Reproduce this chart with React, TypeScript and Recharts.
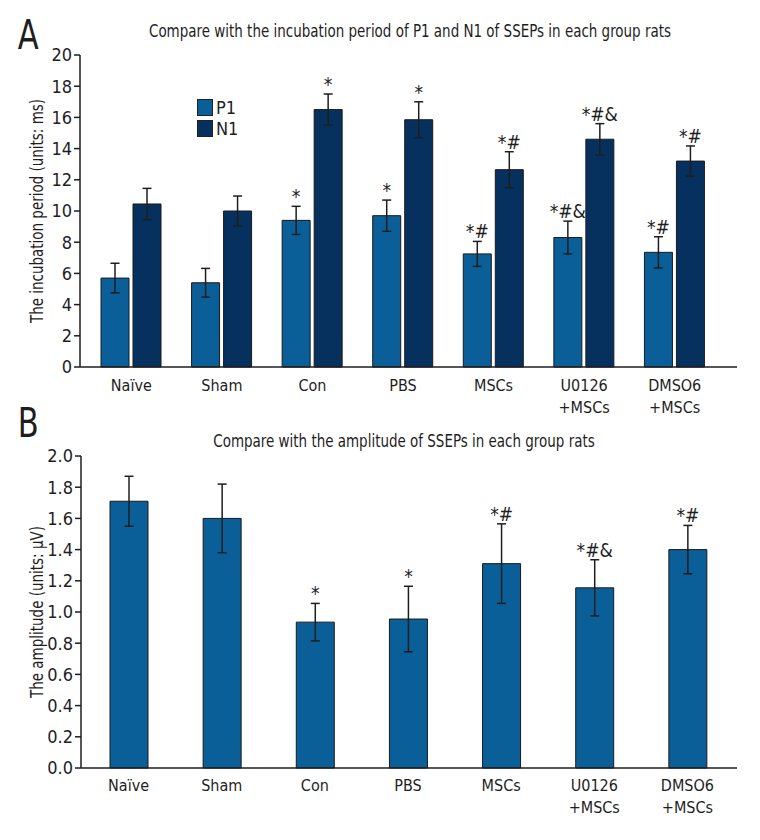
import { BarChart, Bar, XAxis, YAxis, ErrorBar, LabelList, Legend } from 'recharts'

const FONT = '"DejaVu Sans Condensed", "Liberation Sans Narrow", "Roboto", sans-serif'
const INK = '#1e1e1e'
const P1_COLOR = '#0a5f98'
const N1_COLOR = '#06315e'

const groups = ['Naïve', 'Sham', 'Con', 'PBS', 'MSCs', 'U0126\n+MSCs', 'DMSO6\n+MSCs']

// latency (ms)
const p1 = [5.7, 5.4, 9.4, 9.7, 7.25, 8.3, 7.35]
const p1Err = [0.95, 0.92, 0.9, 1.0, 0.8, 1.05, 1.0]
const p1Sig = ['', '', '*', '*', '*#', '*#&', '*#']
const n1 = [10.45, 10.0, 16.5, 15.85, 12.65, 14.6, 13.2]
const n1Err = [1.0, 0.96, 1.0, 1.15, 1.15, 1.0, 0.97]
const n1Sig = ['', '', '*', '*', '*#', '*#&', '*#']
const latencyTicks = [0, 2, 4, 6, 8, 10, 12, 14, 16, 18, 20]

// amplitude (µV)
const amp = [1.71, 1.6, 0.935, 0.955, 1.31, 1.155, 1.4]
const ampErr = [0.16, 0.22, 0.12, 0.21, 0.255, 0.18, 0.155]
const ampSig = ['', '', '*', '*', '*#', '*#&', '*#']
const ampTicks = [0, 0.2, 0.4, 0.6, 0.8, 1.0, 1.2, 1.4, 1.6, 1.8, 2.0]

const latencyData = groups.map((g, i) => ({
  group: g, p1: p1[i], p1Err: p1Err[i], p1Sig: p1Sig[i],
  n1: n1[i], n1Err: n1Err[i], n1Sig: n1Sig[i],
}))
const ampData = groups.map((g, i) => ({ group: g, amp: amp[i], ampErr: ampErr[i], ampSig: ampSig[i] }))

// text above the error bar cap; px per unit taken from the bar's own geometry
const sigLabel = (vals: number[], errs: number[]) => (props: any) => {
  const { x, y, width, height, value, index } = props
  if (!value || index == null) return null
  const top = y - errs[index] * (height / vals[index])
  return (
    <text x={x + width / 2} y={top - 3} textAnchor="middle" fontSize={19} fill={INK} fontFamily={FONT}>
      {value}
    </text>
  )
}

const groupTick = (dy: number) => (props: any) => {
  const { x, y, payload } = props
  const lines = String(payload.value).split('\n')
  return (
    <text x={x} y={y} textAnchor="middle" fontSize={16} fill={INK} fontFamily={FONT}>
      {lines.map((l, i) => (
        <tspan key={i} x={x} dy={i === 0 ? dy : 22}>{l}</tspan>
      ))}
    </text>
  )
}

const yLabel = (text: string, cx: number, len: number) => (props: any) => {
  const { viewBox } = props
  const cy = viewBox.y + viewBox.height / 2
  return (
    <text x={cx} y={cy} transform={`rotate(-90 ${cx} ${cy})`} textAnchor="middle"
      dominantBaseline="central" fontSize={18} fill={INK} fontFamily={FONT}
      textLength={len} lengthAdjust="spacingAndGlyphs">
      {text}
    </text>
  )
}

const LatencyLegend = () => (
  <div style={{ fontFamily: FONT, fontSize: 18, color: INK, lineHeight: '21px' }}>
    {[['P1', P1_COLOR], ['N1', N1_COLOR]].map(([name, c]) => (
      <div key={name} style={{ display: 'flex', alignItems: 'center', gap: 3 }}>
        <span style={{ width: 14, height: 15, background: c, border: '1px solid #222', display: 'inline-block' }} />
        {name}
      </div>
    ))}
  </div>
)

const tickStyle = { fontSize: 18, fill: INK, fontFamily: FONT }
const titleStyle = { position: 'absolute' as const, left: 0, textAlign: 'center' as const, fontSize: 17, transform: 'scaleX(0.88)' }

export default function App() {
  return (
    <div style={{ position: 'absolute', left: 0, top: 0, width: 760, height: 840, background: '#fff', fontFamily: FONT, color: INK }}>
      <div style={{ position: 'absolute', left: 16, top: 12, fontSize: 40, transform: 'scaleX(0.85)' }}>A</div>
      <div style={{ ...titleStyle, width: 820, top: 21 }}>
        Compare with the incubation period of P1 and N1 of SSEPs in each group rats
      </div>
      <div style={{ position: 'absolute', left: 16, top: 400, fontSize: 40, transform: 'scaleX(0.85)' }}>B</div>
      <div style={{ ...titleStyle, width: 808, top: 431 }}>
        Compare with the amplitude of SSEPs in each group rats
      </div>

      <div style={{ position: 'absolute', left: 0, top: 0 }}>
        <BarChart width={760} height={420} data={latencyData}
          margin={{ top: 55, right: 23, left: 0, bottom: 5 }} barSize={28} barGap={4}>
          <XAxis dataKey="group" interval={0} height={48} tickLine={false}
            axisLine={{ stroke: INK, strokeWidth: 1.5 }} padding={{ left: 6, right: 17 }}
            tick={groupTick(16)} />
          <YAxis width={80} domain={[0, 20]} ticks={latencyTicks} interval={0}
            axisLine={{ stroke: INK, strokeWidth: 1.5 }} tickLine={{ stroke: INK, strokeWidth: 1.5 }}
            tickSize={6} tick={tickStyle}
            label={{ content: yLabel('The incubation period (units: ms)', 36, 224) }} />
          <Legend layout="horizontal" verticalAlign="middle" align="center" content={<LatencyLegend />}
            wrapperStyle={{ position: 'absolute', left: 197, top: 97, width: 60 }} />
          <Bar dataKey="p1" fill={P1_COLOR} stroke="#1a1a1a" strokeWidth={1} isAnimationActive={false}>
            <ErrorBar dataKey="p1Err" width={4.5} stroke={INK} strokeWidth={1.5} />
            <LabelList dataKey="p1Sig" content={sigLabel(p1, p1Err)} />
          </Bar>
          <Bar dataKey="n1" fill={N1_COLOR} stroke="#1a1a1a" strokeWidth={1} isAnimationActive={false}>
            <ErrorBar dataKey="n1Err" width={4.5} stroke={INK} strokeWidth={1.5} />
            <LabelList dataKey="n1Sig" content={sigLabel(n1, n1Err)} />
          </Bar>
        </BarChart>
      </div>

      <div style={{ position: 'absolute', left: 0, top: 400 }}>
        <BarChart width={760} height={440} data={ampData}
          margin={{ top: 56, right: 23, left: 0, bottom: 12 }} barSize={38}>
          <XAxis dataKey="group" interval={0} height={60} tickLine={false}
            axisLine={{ stroke: INK, strokeWidth: 1.5 }} padding={{ left: 1, right: 3 }}
            tick={groupTick(15)} />
          <YAxis width={81} domain={[0, 2]} ticks={ampTicks} interval={0}
            tickFormatter={(v: number) => v.toFixed(1)}
            axisLine={{ stroke: INK, strokeWidth: 1.5 }} tickLine={{ stroke: INK, strokeWidth: 1.5 }}
            tickSize={6} tick={tickStyle}
            label={{ content: yLabel('The amplitude (units: μV)', 36, 172) }} />
          <Bar dataKey="amp" fill={P1_COLOR} stroke="#1a1a1a" strokeWidth={1} isAnimationActive={false}>
            <ErrorBar dataKey="ampErr" width={4.5} stroke={INK} strokeWidth={1.5} />
            <LabelList dataKey="ampSig" content={sigLabel(amp, ampErr)} />
          </Bar>
        </BarChart>
      </div>
    </div>
  )
}
